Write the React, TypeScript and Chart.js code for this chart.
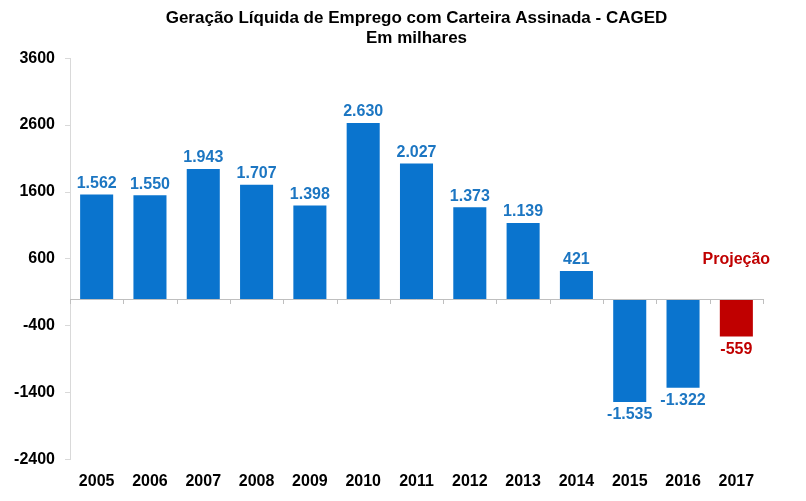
import React, { useEffect, useRef } from "react";
import { Chart, registerables } from "chart.js";

Chart.register(...registerables);

const years = ["2005","2006","2007","2008","2009","2010","2011","2012","2013","2014","2015","2016","2017"];
const values = [1562, 1550, 1943, 1707, 1398, 2630, 2027, 1373, 1139, 421, -1535, -1322, -559];
const isProjection = [false,false,false,false,false,false,false,false,false,false,false,false,true];
const yTicks = [-2400, -1400, -400, 600, 1600, 2600, 3600];
const titleLines = ["Geração Líquida de Emprego com Carteira Assinada - CAGED", "Em milhares"];
const projectionLabel = "Projeção";

const BLUE = "#0A74CE";
const BLUE_TEXT = "#1C76C2";
const RED = "#C00000";
const FONT = "Arial, 'Liberation Sans', sans-serif";

function fmt(v: number) {
  const s = Math.abs(v).toString();
  const withSep = s.length > 3 ? s.slice(0, s.length - 3) + "." + s.slice(s.length - 3) : s;
  return (v < 0 ? "-" : "") + withSep;
}

const overlay = {
  id: "overlay",
  afterDatasetsDraw(chart: any) {
    const { ctx, chartArea, scales } = chart;
    const y0 = scales.y.getPixelForValue(0);
    ctx.save();
    ctx.strokeStyle = "#BFBFBF";
    ctx.lineWidth = 1;
    ctx.beginPath();
    ctx.moveTo(chartArea.left, Math.round(y0) + 0.5);
    ctx.lineTo(chartArea.right, Math.round(y0) + 0.5);
    ctx.stroke();
    const n = years.length;
    const w = (chartArea.right - chartArea.left) / n;
    ctx.beginPath();
    for (let i = 0; i <= n; i++) {
      const x = Math.round(chartArea.left + i * w) + 0.5;
      ctx.moveTo(x, Math.round(y0));
      ctx.lineTo(x, Math.round(y0) + 5);
    }
    ctx.stroke();
    const meta = chart.getDatasetMeta(0);
    ctx.font = `bold 16px ${FONT}`;
    ctx.textAlign = "center";
    meta.data.forEach((bar: any, i: number) => {
      const v = values[i];
      ctx.fillStyle = isProjection[i] ? RED : BLUE_TEXT;
      if (v >= 0) {
        ctx.textBaseline = "bottom";
        ctx.fillText(fmt(v), bar.x, bar.y - 3);
      } else {
        ctx.textBaseline = "top";
        ctx.fillText(fmt(v), bar.x, bar.y + 5);
      }
      if (isProjection[i]) {
        ctx.fillStyle = RED;
        ctx.textBaseline = "middle";
        ctx.fillText(projectionLabel, bar.x, y0 - 40);
      }
    });
    ctx.restore();
  },
};

export default function App() {
  const ref = useRef<HTMLCanvasElement | null>(null);
  useEffect(() => {
    if (!ref.current) return;
    const chart = new Chart(ref.current, {
      type: "bar",
      data: {
        labels: years,
        datasets: [
          {
            data: values,
            backgroundColor: values.map((_, i) => (isProjection[i] ? RED : BLUE)),
            barPercentage: 0.62,
            categoryPercentage: 1,
          },
        ],
      },
      options: {
        animation: false,
        responsive: false,
        maintainAspectRatio: false,
        layout: { padding: { left: 8, right: 43, top: 0, bottom: 6 } },
        plugins: {
          legend: { display: false },
          tooltip: { enabled: false },
          title: {
            display: true,
            fullSize: false,
            text: titleLines,
            color: "#000",
            font: { family: FONT, size: 17, weight: "bold", lineHeight: 1.18 },
            padding: { top: 8, bottom: 10 },
          },
        },
        scales: {
          x: {
            grid: { display: false },
            border: { display: false },
            ticks: {
              color: "#000",
              font: { family: FONT, size: 16, weight: "bold" },
              padding: 4,
            },
          },
          y: {
            min: yTicks[0],
            max: yTicks[yTicks.length - 1],
            afterFit(scale: any) {
              scale.width = 62;
            },
            afterBuildTicks(scale: any) {
              scale.ticks = yTicks.map((v) => ({ value: v }));
            },
            grid: { drawOnChartArea: false, tickLength: 5, color: "#D9D9D9" },
            border: { display: true, color: "#D9D9D9" },
            ticks: {
              color: "#000",
              font: { family: FONT, size: 16, weight: "bold" },
              padding: 10,
              callback: (v: any) => String(v),
            },
          },
        },
      },
      plugins: [overlay],
    });
    return () => chart.destroy();
  }, []);
  return (
    <div style={{ position: "fixed", left: 0, top: 0, width: 806, height: 501, background: "#fff" }}>
      <canvas ref={ref} width={806} height={501} style={{ width: 806, height: 501 }} />
    </div>
  );
}
